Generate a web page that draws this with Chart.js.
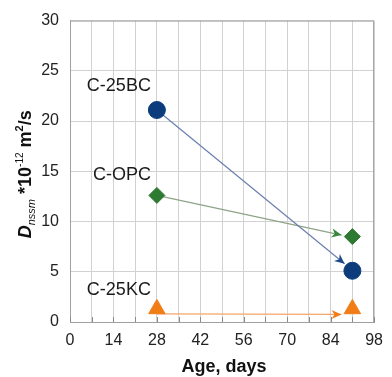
<!DOCTYPE html>
<html>
<head>
<meta charset="utf-8">
<script src="https://cdn.jsdelivr.net/npm/chart.js@4.4.1/dist/chart.umd.min.js"></script>
<style>
  html, body { margin: 0; padding: 0; background: #fff; }
  #wrap { width: 392px; height: 377px; }
</style>
</head>
<body>
<div id="wrap"><canvas id="c" width="392" height="377"></canvas></div>
<script>
// measured points (age in days, D value)
const seriesNames = ["C-25BC", "C-OPC", "C-25KC"];
const ages = [28, 91];
const bcValues = [21.1, 5.1];
const opcValues = [12.6, 8.5];
const kcValues = [1.3, 1.3];

// arrows drawn between the points (start/end in data units)
const bcArrow = [{ x: 28, y: 21.1 }, { x: 88.5, y: 5.8 }];
const opcArrow = [{ x: 28, y: 12.6 }, { x: 87.5, y: 8.65 }];
const kcArrow = [{ x: 28, y: 0.8 }, { x: 87.5, y: 0.75 }];

// where the series names sit
const labelAnchors = [
  { x: 28, y: 23.45 },
  { x: 28, y: 14.6 },
  { x: 28, y: 3.15 },
];

const xStep = 7;
const xLabelStep = 14;
const yStep = 5;

const FONT = "'Liberation Sans', Arial, sans-serif";
const markerColors = ["#0d3c7c", "#2f7a32", "#f07d16"];
const lineColors = ["#6a7fae", "#8ea487", "#f4a56b"];
const headColors = ["#1d4a8a", "#3a873c", "#f07d16"];

const pts = (vals) => ages.map((a, i) => ({ x: a, y: vals[i] }));

const extras = {
  id: "extras",
  afterDatasetsDraw(chart) {
    const { ctx, chartArea: a, scales } = chart;
    const xs = scales.x, ys = scales.y;
    ctx.save();
    // arrowheads
    chart.data.datasets.forEach((ds, i) => {
      if (!ds.arrow) return;
      const meta = chart.getDatasetMeta(i);
      const p0 = meta.data[0], p1 = meta.data[meta.data.length - 1];
      const ang = Math.atan2(p1.y - p0.y, p1.x - p0.x);
      const len = 10, half = 4.5;
      ctx.save();
      ctx.translate(p1.x, p1.y);
      ctx.rotate(ang);
      ctx.fillStyle = ds.headColor;
      ctx.beginPath();
      ctx.moveTo(0, 0);
      ctx.lineTo(-len, -half);
      ctx.lineTo(-len * 0.7, 0);
      ctx.lineTo(-len, half);
      ctx.closePath();
      ctx.fill();
      ctx.restore();
    });
    // frame top/right
    ctx.strokeStyle = "#a0a0a0";
    ctx.lineWidth = 1;
    ctx.beginPath();
    ctx.moveTo(a.left, a.top + 0.5);
    ctx.lineTo(a.right - 0.5, a.top + 0.5);
    ctx.lineTo(a.right - 0.5, a.bottom);
    ctx.stroke();
    // inner tick marks on x axis
    ctx.strokeStyle = "#8a8a8a";
    ctx.beginPath();
    xs.ticks.forEach((t) => {
      const px = Math.round(xs.getPixelForValue(t.value)) + 0.5;
      ctx.moveTo(px, a.bottom);
      ctx.lineTo(px, a.bottom - 5);
    });
    ctx.stroke();
    // series labels
    ctx.fillStyle = "#1a1a1a";
    ctx.font = "18px " + FONT;
    ctx.textAlign = "right";
    ctx.textBaseline = "middle";
    labelAnchors.forEach((p, i) => {
      ctx.fillText(seriesNames[i], xs.getPixelForValue(p.x) - 6, ys.getPixelForValue(p.y));
    });
    // x title
    ctx.font = "bold 18px " + FONT;
    ctx.textAlign = "center";
    ctx.fillStyle = "#111";
    ctx.fillText("Age, days", (a.left + a.right) / 2 + 2, 367);
    // y title with sub/superscripts
    const parts = [
      { t: "D", f: "italic bold 18px " + FONT, dy: 0 },
      { t: "nssm", f: "italic 11px " + FONT, dy: 4 },
      { t: " *10", f: "bold 18px " + FONT, dy: 0 },
      { t: "-12", f: "10px " + FONT, dy: -8 },
      { t: " m", f: "bold 18px " + FONT, dy: 0 },
      { t: "2", f: "bold 11px " + FONT, dy: -8 },
      { t: "/s", f: "bold 18px " + FONT, dy: 0 },
    ];
    let total = 0;
    parts.forEach((p) => { ctx.font = p.f; p.w = ctx.measureText(p.t).width; total += p.w; });
    ctx.translate(31, (a.top + a.bottom) / 2 + 3);
    ctx.rotate(-Math.PI / 2);
    ctx.textAlign = "left";
    ctx.textBaseline = "alphabetic";
    let cx = -total / 2;
    parts.forEach((p) => { ctx.font = p.f; ctx.fillText(p.t, cx, p.dy); cx += p.w; });
    ctx.restore();
  },
};

new Chart(document.getElementById("c"), {
  type: "scatter",
  data: {
    datasets: [
      { data: pts(bcValues), pointStyle: "circle", pointRadius: 8.5, backgroundColor: markerColors[0], borderColor: markerColors[0] },
      { data: pts(opcValues), pointStyle: "rectRot", pointRadius: 8, backgroundColor: markerColors[1], borderColor: markerColors[1] },
      { data: pts(kcValues), pointStyle: "triangle", pointRadius: 9.5, backgroundColor: markerColors[2], borderColor: markerColors[2] },
      { type: "line", data: bcArrow, arrow: true, headColor: headColors[0], borderColor: lineColors[0], borderWidth: 1.2, pointRadius: 0 },
      { type: "line", data: opcArrow, arrow: true, headColor: headColors[1], borderColor: lineColors[1], borderWidth: 1.2, pointRadius: 0 },
      { type: "line", data: kcArrow, arrow: true, headColor: headColors[2], borderColor: lineColors[2], borderWidth: 1.2, pointRadius: 0 },
    ],
  },
  options: {
    responsive: false,
    animation: false,
    layout: { padding: { top: 17, right: 2, left: 0, bottom: 0 } },
    plugins: { legend: { display: false }, tooltip: { enabled: false } },
    scales: {
      x: {
        type: "linear",
        min: 0,
        max: 98,
        afterFit: (s) => { s.height = 55; },
        ticks: {
          stepSize: xStep,
          autoSkip: false,
          maxRotation: 0,
          padding: 9,
          color: "#222",
          font: { family: FONT, size: 16 },
          callback: (v) => (v % xLabelStep === 0 ? v : ""),
        },
        grid: { color: "#d2d2d2", drawTicks: false },
        border: { color: "#a0a0a0" },
      },
      y: {
        min: 0,
        max: 30,
        afterFit: (s) => { s.width = 70; },
        ticks: {
          stepSize: yStep,
          padding: 11,
          color: "#222",
          font: { family: FONT, size: 16 },
        },
        grid: { color: "#d2d2d2", drawTicks: false },
        border: { color: "#a0a0a0" },
      },
    },
  },
  plugins: [extras],
});
</script>
</body>
</html>
